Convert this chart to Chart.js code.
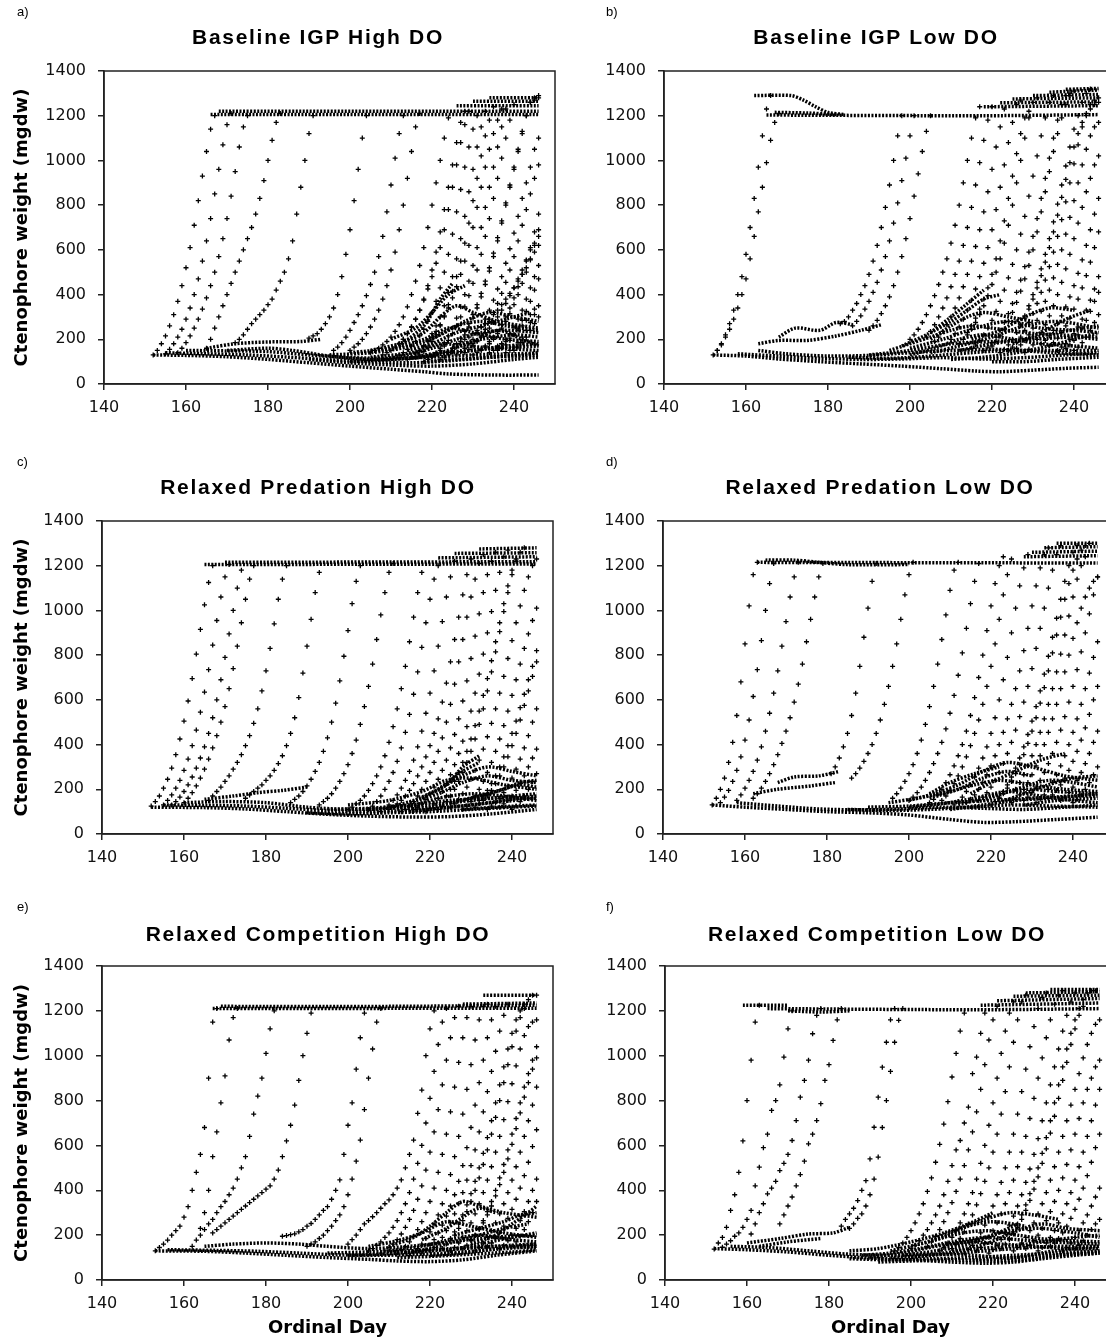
<!DOCTYPE html>
<html>
<head>
<meta charset="utf-8">
<script src="https://cdn.jsdelivr.net/npm/chart.js@4.4.1/dist/chart.umd.min.js"></script>
<style>
  body { margin: 0; background: #fff; width: 1106px; height: 1342px; overflow: hidden; position: relative; }
  canvas { position: absolute; }
  .ttl { position: absolute; transform: translate(-50%, -50%); white-space: nowrap;
         font: bold 21px "Liberation Sans", Arial, sans-serif; letter-spacing: 1.7px; color: #000; }
  .tag { position: absolute; font: 13px "Liberation Sans", Arial, sans-serif; color: #000; }
</style>
</head>
<body>
<script>
// axis ticks
const xTicks = [140, 160, 180, 200, 220, 240];
const yTicks = [0, 200, 400, 600, 800, 1000, 1200, 1400];
const lastDay = 246;

// each track: [first day, weight on that day, weight next day, ...]
const tracksA = [
  [152,130,150,180,215,260,310,370,440,520,610,710,820,930,1040,1140,1200],
  [155,135,155,180,210,245,290,340,400,470,550,640,740,850,960,1070,1160,1210],
  [158,140,160,185,215,250,290,335,385,440,500,570,650,740,840,950,1060,1150,1200],
  [165,160,200,250,300,350,400,450,500,550,600,650,700,760,830,910,1000,1090,1170,1210],
  [172,185,200,220,245,270,290,310,330,355,380,420,460,500,560,640,760,880,1000,1120,1200],
  [190,205,215,225,245,270,300,340,400,480,580,690,820,960,1100,1200],
  [196,150,165,185,210,240,275,310,350,395,445,500,570,660,770,890,1010,1120,1200],
  [200,150,165,180,200,225,255,290,330,380,440,510,590,690,800,920,1040,1150,1210],
  [205,140,150,160,175,190,210,235,265,300,345,400,460,530,610,700,800,900,1000,1100,1190],
  [208,130,140,150,165,180,200,225,255,290,330,380,440,510,590,680,780,880,980,1080,1170,1220],
  [212,130,140,155,170,190,215,245,280,320,370,430,500,580,670,770,870,970,1060,1140,1200],
  [214,110,120,135,150,170,195,225,260,300,350,410,480,560,650,750,860,960,1060,1150,1220],
  [216,120,130,145,165,190,220,260,305,355,415,480,550,630,720,820,920,1020,1110,1180,1240],
  [218,100,110,125,140,160,185,215,250,295,345,400,460,530,610,700,790,880,970,1060,1150,1230],
  [220,120,135,150,170,195,225,260,300,345,395,450,510,580,660,740,830,920,1010,1100,1180,1250],
  [222,110,120,130,145,165,190,220,255,295,340,390,445,505,570,640,720,800,880,960,1040,1120,1200,1260,1280,1290],
  [224,140,160,180,205,235,270,310,355,405,460,520,585,655,730,810,890,970,1050,1130,1200,1260,1270,1280],
  [226,130,145,160,180,200,225,255,290,330,375,425,480,540,605,675,750,830,900,970,1050,1100],
  [228,140,155,170,190,215,245,280,320,360,405,455,510,570,640,710,780,850,920,980],
  [230,130,140,155,170,190,210,235,265,300,340,385,435,490,550,610,680,760],
  [232,150,165,180,200,225,250,280,315,355,400,450,500,560,620,690],
  [234,140,150,165,180,200,225,255,290,330,380,430,480,530],
  [236,150,160,175,195,220,250,285,325,370,420,470],
  [238,140,150,165,185,210,240,275,310,350],
  [240,150,165,185,210,240,270,300],
  [230,180,195,210,230,250,275,300,330,360,395,430,470,510,555,600,630,660],
  [228,200,210,225,240,255,270,290,310,330,355,380,405,430,460,490,520,555,590,620],
  [236,170,180,190,205,220,240,260,285,310,335],
  [212,180,200,225,255,290,330,375,425,480,540,610,690,780,880,980,1080,1160,1220],
  [218,170,190,210,235,265,300,340,385,435,490,550,620,700,790,880,970,1050,1120,1180,1230]
];
// dotted bands: [day, weight, day, weight, ...]
const bandsA = [
  [166,1205, 246,1205],
  [168,1220, 246,1220],
  [226,1245, 246,1245],
  [230,1265, 246,1265],
  [234,1280, 246,1280],
  [152,130, 160,128, 170,122, 180,110, 190,95, 200,80, 210,66, 218,55, 224,45, 235,40, 246,40],
  [155,140, 165,135, 175,130, 185,120, 195,108, 205,100, 215,95, 225,105, 235,120, 246,130],
  [160,150, 170,148, 180,145, 190,130, 200,118, 210,115, 220,120, 230,130, 240,135, 246,138],
  [165,160, 172,180, 180,188, 188,190, 193,200],
  [170,150, 180,160, 186,150, 195,125, 205,110, 215,115, 225,140, 235,160, 246,170],
  [200,140, 210,160, 218,200, 224,250, 230,230, 238,200, 246,190],
  [205,120, 215,140, 222,180, 228,170, 236,160, 246,150],
  [190,110, 200,95, 210,85, 220,80, 230,90, 240,110, 246,120],
  [205,150, 212,180, 218,230, 222,300, 226,350, 230,320, 236,280, 242,260, 246,250],
  [208,110, 214,130, 220,160, 226,200, 232,230, 238,240, 246,230],
  [212,170, 218,260, 222,380, 225,450],
  [215,120, 222,140, 230,150, 238,170, 246,180],
  [195,130, 205,140, 215,170, 222,220, 228,280, 234,320, 240,300, 246,280],
  [218,100, 226,110, 234,120, 242,130, 246,140],
  [200,100, 210,110, 220,130, 230,190, 236,240, 242,200, 246,170],
  [210,200, 216,250, 220,320, 224,400, 228,440],
  [220,200, 226,260, 232,280, 238,260, 246,240],
  [225,170, 232,200, 240,220, 246,210],
  [214,150, 220,180, 226,230, 232,260, 238,290, 244,320]
];

const tracksB = [
  [152,130,150,175,210,245,290,340,400,470,560,660,770,880,990,1090,1170,1210],
  [153,150,180,220,270,330,400,480,580,700,830,970,1110,1230,1290],
  [183,270,280,300,330,360,400,440,490,550,620,700,790,890,1000,1110,1200],
  [186,260,280,305,335,370,410,455,510,570,640,720,810,910,1010,1110,1200],
  [190,240,260,285,315,350,390,440,500,570,650,740,840,940,1040,1130,1200],
  [200,200,220,245,275,310,350,395,445,500,560,630,710,800,900,1000,1100,1190,1240],
  [204,210,235,265,300,340,385,435,490,550,620,700,790,890,990,1090,1180,1240],
  [206,190,210,235,265,300,340,385,435,490,550,615,690,770,860,960,1060,1150,1230],
  [210,200,225,255,290,330,375,425,480,540,610,690,780,880,980,1080,1170,1250,1270],
  [212,180,200,220,245,275,310,350,395,445,500,560,630,710,800,900,1000,1100,1190,1260,1280],
  [215,160,175,195,220,250,285,325,370,420,475,535,600,670,750,840,930,1020,1110,1190,1260,1290],
  [218,150,165,185,210,240,275,315,360,410,465,525,590,660,740,830,920,1010,1100,1180,1250,1290,1300],
  [220,170,190,215,245,280,320,365,415,470,530,600,680,770,860,950,1040,1120,1190,1250,1290,1310],
  [222,140,155,175,200,230,265,305,350,400,455,515,580,650,725,805,890,975,1060,1140,1200,1260,1300,1320],
  [224,150,165,185,210,240,275,315,360,410,465,525,590,660,735,815,900,985,1070,1150,1210,1250,1270,1280],
  [226,160,175,195,220,250,285,325,370,420,475,535,600,670,745,820,900,980,1050,1110,1150,1170],
  [228,140,155,175,200,230,265,305,350,400,455,515,580,650,720,790,860,920,980,1020],
  [232,180,195,215,240,270,305,345,390,440,495,555,620,690,760,830],
  [234,170,185,205,230,260,295,335,380,430,485,545,610,680],
  [236,150,165,180,200,225,255,290,330,375,425,480],
  [238,160,175,195,220,250,285,325,370,410],
  [240,150,165,185,210,240,275,310],
  [226,230,260,295,335,380,430,485,545,610,680,755,835,915,990,1060,1120,1170,1200,1230,1250,1260],
  [214,230,260,295,335,380,430,490,560,640,730,830,930,1030,1120,1190,1220]
];
const bandsB = [
  [165,1203, 218,1200, 246,1205],
  [167,1215, 175,1212, 182,1205],
  [162,1290, 171,1290, 174,1270, 177,1240, 180,1215, 184,1205],
  [218,1240, 246,1245],
  [222,1258, 246,1262],
  [225,1275, 246,1280],
  [230,1290, 246,1295],
  [234,1305, 246,1315],
  [238,1318, 246,1322],
  [152,130, 160,125, 168,112, 178,100, 188,90, 198,80, 208,68, 216,58, 222,55, 230,62, 238,70, 246,75],
  [158,135, 168,125, 178,115, 188,110, 198,112, 208,118, 218,112, 228,118, 238,130, 246,140],
  [163,150, 170,135, 180,125, 190,128, 200,140, 210,150, 220,155, 230,150, 240,150, 246,150],
  [163,180, 168,195, 175,195, 182,215, 188,240, 193,265],
  [168,210, 172,250, 178,240, 182,275, 186,265],
  [195,150, 200,180, 205,210, 210,240, 215,260, 220,250, 228,230, 236,220, 246,210],
  [200,130, 206,160, 212,200, 218,220, 225,200, 232,180, 240,170, 246,160],
  [205,200, 210,260, 214,300, 218,320, 224,300, 230,280],
  [185,120, 195,115, 205,125, 215,140, 225,150, 235,140, 246,130],
  [198,170, 204,220, 210,280, 214,330, 218,380, 222,400],
  [205,140, 212,170, 220,210, 228,260, 236,280, 246,250],
  [210,110, 218,120, 226,140, 234,170, 240,200, 246,230],
  [190,130, 200,150, 210,180, 220,190, 230,200, 240,210, 246,200],
  [215,200, 222,240, 228,300, 234,340, 240,330],
  [220,100, 228,100, 236,110, 246,120],
  [205,230, 210,300, 214,360, 218,420],
  [212,150, 220,180, 228,200, 236,230, 246,260],
  [225,180, 232,230, 238,290, 244,330],
  [200,160, 208,200, 216,250, 224,280, 232,250, 240,240, 246,230]
];

const tracksC = [
  [152,125,145,170,205,245,295,355,425,505,595,695,805,915,1025,1125,1200],
  [155,130,150,175,205,240,285,335,395,465,545,635,735,845,955,1060,1150,1205],
  [157,130,145,165,190,220,255,295,340,390,450,520,600,690,790,895,1000,1100,1180],
  [160,140,160,185,215,250,290,335,385,440,500,570,650,740,840,945,1050,1140,1200],
  [166,150,170,190,210,235,260,290,320,355,395,440,495,560,640,730,830,940,1050,1140,1200],
  [175,160,175,190,205,220,240,260,285,315,350,395,450,520,610,720,840,960,1080,1170],
  [186,140,155,170,190,215,245,280,320,370,430,500,585,685,795,910,1030,1130,1200],
  [193,130,145,160,180,205,235,270,310,360,420,490,570,660,760,870,980,1080,1170,1210],
  [200,110,120,135,150,170,195,225,260,300,350,410,480,560,650,750,860,970,1080,1170],
  [205,110,125,145,170,200,235,275,325,385,455,535,625,725,835,945,1050,1140,1200],
  [208,100,115,130,150,175,205,240,280,330,390,460,540,630,730,840,950,1060,1150,1220],
  [210,110,120,135,150,170,195,225,260,300,345,395,450,515,590,675,770,870,970,1070,1160,1230],
  [213,100,110,125,145,170,200,235,275,320,370,430,500,580,670,770,870,970,1060,1140,1210,1250],
  [216,110,120,135,155,180,210,245,285,330,385,445,515,595,685,785,885,985,1080,1160,1220,1260],
  [219,100,115,135,160,190,225,265,310,360,415,480,550,630,715,805,900,995,1090,1170,1240,1270],
  [222,110,125,145,170,200,235,275,320,370,425,490,560,640,725,815,905,995,1080,1160,1220,1260,1280],
  [225,120,135,155,180,210,245,285,330,380,435,495,560,630,705,785,865,945,1020,1090,1150,1200,1230],
  [228,110,125,145,170,200,235,275,320,370,425,485,550,620,690,760,830,895,955,1010],
  [231,120,135,150,170,195,225,260,300,345,395,450,510,575,640,705,770],
  [234,110,125,140,160,185,215,250,290,335,385,440,500,560],
  [237,120,135,150,170,195,225,260,300,340,380],
  [240,110,125,145,170,200,235,270],
  [224,170,200,235,275,320,370,425,485,550,620,695,775,860,945,1030,1110,1180,1230],
  [232,150,170,195,225,260,300,345,395,450,505,565,625,690,750,820]
];
const bandsC = [
  [165,1205, 246,1208],
  [170,1215, 246,1218],
  [222,1235, 246,1240],
  [226,1255, 246,1258],
  [232,1275, 246,1280],
  [152,120, 165,118, 175,112, 185,100, 195,88, 205,80, 215,76, 225,78, 235,90, 246,110],
  [155,130, 165,128, 175,125, 185,115, 195,105, 205,100, 215,105, 225,120, 235,140, 246,160],
  [160,140, 170,145, 180,140, 190,120, 200,110, 210,115, 220,130, 230,150, 240,170, 246,180],
  [165,155, 172,170, 178,185, 184,195, 190,210],
  [200,130, 210,150, 218,190, 224,240, 230,250, 238,220, 246,200],
  [205,110, 215,125, 222,160, 230,180, 238,170, 246,150],
  [190,95, 200,90, 210,95, 220,100, 230,110, 240,120, 246,125],
  [210,120, 216,150, 222,200, 228,260, 234,300, 240,280, 246,260],
  [215,100, 222,115, 230,130, 238,150, 246,170],
  [218,160, 224,220, 228,300, 232,350],
  [195,110, 205,115, 215,130, 225,150, 235,160, 246,160],
  [225,140, 232,170, 238,200, 242,230, 246,240],
  [215,140, 222,180, 228,230, 234,260, 240,240, 246,230],
  [222,200, 228,280, 232,320],
  [228,110, 236,120, 246,130],
  [212,110, 220,120, 228,150, 236,190, 242,220, 246,210]
];

const tracksD = [
  [152,130,160,200,250,320,410,530,680,850,1020,1160,1215],
  [154,140,165,195,235,285,345,420,510,615,735,865,1000,1120,1210],
  [158,150,175,205,240,280,330,390,460,540,630,730,840,950,1060,1150,1215],
  [162,160,180,205,235,270,310,355,405,460,520,590,670,760,860,960,1060,1150,1210],
  [181,270,300,340,390,450,530,630,750,880,1010,1130,1210],
  [186,250,270,295,325,360,400,450,510,580,660,750,850,960,1070,1160,1215],
  [196,160,180,205,235,270,310,360,420,490,570,660,760,870,980,1090,1180,1215],
  [200,150,165,185,210,240,275,315,360,410,470,540,620,710,810,920,1030,1130,1210],
  [205,140,155,175,200,230,265,305,350,400,460,530,610,700,800,910,1020,1120,1200,1240],
  [208,150,170,195,225,260,300,345,395,450,510,580,660,750,850,960,1070,1160,1230],
  [211,130,145,165,190,220,255,295,340,390,450,520,600,690,790,900,1010,1110,1190,1250],
  [214,140,155,175,200,230,265,305,350,400,455,515,580,650,730,820,920,1020,1110,1190,1250,1280],
  [217,150,165,185,210,240,275,315,360,410,465,525,590,660,740,830,920,1010,1100,1180,1250,1290],
  [220,130,145,165,190,220,255,295,340,390,445,505,570,640,715,795,880,965,1050,1130,1200,1260,1290],
  [222,160,180,205,235,270,310,355,405,460,520,585,655,730,810,890,970,1050,1120,1180,1230,1270,1290,1300],
  [225,140,155,175,200,230,265,305,350,400,455,515,580,650,725,800,875,945,1010,1060,1100,1130,1150],
  [228,150,165,185,210,240,275,315,360,410,465,525,590,660,735,815,900,985,1070,1150],
  [231,140,155,175,200,230,265,305,350,400,455,515,580,650,720,790,860],
  [234,160,175,195,220,250,285,325,370,420,475,535,600,660],
  [237,150,165,185,210,240,275,315,360,410,460],
  [240,140,155,175,200,230,265,300],
  [226,200,230,265,305,350,400,455,515,580,650,725,805,890,975,1060,1140,1200,1240]
];
const bandsD = [
  [163,1215, 246,1212],
  [165,1225, 172,1225, 178,1215, 185,1205, 200,1205],
  [228,1240, 246,1245],
  [230,1260, 246,1265],
  [233,1280, 246,1285],
  [236,1300, 246,1300],
  [152,130, 160,120, 170,110, 180,100, 190,95, 200,85, 210,65, 218,52, 226,55, 236,65, 246,75],
  [158,140, 168,125, 178,112, 188,108, 198,112, 208,120, 218,115, 228,110, 238,120, 246,130],
  [162,180, 168,200, 176,215, 182,230],
  [168,230, 172,255, 178,260, 183,280],
  [195,140, 202,160, 210,190, 216,220, 222,240, 230,220, 238,200, 246,190],
  [200,120, 208,135, 216,160, 224,190, 232,170, 240,150, 246,140],
  [205,160, 212,200, 218,250, 224,280, 230,260],
  [185,110, 195,105, 205,110, 215,120, 225,130, 235,125, 246,120],
  [200,150, 206,180, 212,220, 218,280, 224,320, 230,300, 238,260, 246,240],
  [210,110, 218,130, 226,150, 234,160, 242,170, 246,170],
  [215,180, 220,230, 226,280, 232,330, 238,360],
  [190,120, 200,125, 210,140, 220,150, 230,160, 240,170, 246,180],
  [222,140, 228,180, 234,220, 240,250, 246,260],
  [205,180, 210,230, 216,270, 222,300],
  [218,150, 226,200, 234,240, 240,230, 246,210],
  [228,130, 236,150, 246,160],
  [212,130, 220,170, 228,200, 236,190, 246,180]
];

const tracksE = [
  [153,130,145,160,178,200,220,240,280,327,400,480,560,680,900,1150,1210],
  [162,150,178,230,300,400,550,660,790,910,1070,1170,1210],
  [164,200,225,250,270,300,327,350,380,410,450,500,550,640,740,820,900,1010,1120,1200],
  [167,210,225,240,255,270,285,300,315,330,345,360,375,390,405,420,450,490,550,620,690,780,890,1000,1100,1190],
  [184,195,198,202,206,215,225,240,252,270,290,310,327,360,400,446,560,690,790,940,1080,1190],
  [190,150,160,170,185,200,220,240,265,290,327,380,450,530,624,760,900,1030,1150,1210],
  [200,160,180,200,225,250,265,282,300,320,340,357,380,410,446,500,560,624,743,847,1000,1120,1200],
  [205,130,140,155,170,190,210,235,265,300,340,390,450,520,600,700,810,930,1050,1150,1210],
  [208,120,130,145,160,180,205,235,270,310,360,420,490,570,660,760,870,980,1080,1170,1220],
  [212,120,135,150,170,195,225,260,300,350,410,480,560,650,750,860,970,1080,1170,1220],
  [215,110,125,140,160,185,215,250,290,340,400,470,550,640,740,850,960,1070,1160,1220,1230],
  [218,120,135,155,180,210,245,285,330,380,440,510,590,680,780,880,980,1080,1160,1220],
  [220,130,145,165,190,220,255,295,340,390,445,510,580,660,750,840,930,1020,1110,1180,1230],
  [223,140,160,185,215,250,290,335,385,440,500,565,635,710,790,870,950,1030,1100,1160,1200,1230,1250,1270,1270],
  [225,130,145,165,190,220,255,295,340,390,445,505,570,640,715,795,875,955,1030,1090,1130,1150,1160],
  [228,140,155,175,200,230,265,305,350,400,455,515,580,650,720,790,860,920,980,1040],
  [231,130,145,165,190,220,255,295,340,390,445,505,570,640,710,780,860],
  [234,150,165,185,210,240,275,315,360,410,465,525,595,670],
  [237,140,155,175,200,230,265,305,350,400,450],
  [240,150,170,195,225,260,300,350],
  [226,200,230,265,305,350,400,455,515,580,650,725,800,880,960,1040,1110,1170,1210],
  [230,180,200,225,255,290,330,375,425,480,540,605,675,745,815,880,940,990]
];
const bandsE = [
  [167,1210, 246,1212],
  [169,1220, 210,1220, 246,1225],
  [228,1230, 246,1235],
  [233,1270, 246,1270],
  [153,130, 165,128, 175,120, 185,110, 195,100, 205,92, 212,85, 220,82, 228,90, 236,110, 246,130],
  [156,135, 168,132, 178,128, 188,120, 198,112, 208,110, 218,115, 228,125, 238,140, 246,150],
  [165,150, 172,160, 180,165, 188,160, 195,150, 205,140, 215,150, 225,170, 235,190, 246,200],
  [205,150, 212,175, 218,210, 224,260, 230,240, 238,210, 246,190],
  [210,130, 218,150, 225,180, 232,200, 240,180, 246,170],
  [195,120, 205,125, 215,130, 225,140, 235,150, 246,145],
  [210,150, 216,190, 220,240, 224,300, 228,350, 232,330, 238,300, 246,280],
  [214,120, 220,140, 226,170, 232,200, 238,230, 244,250],
  [220,110, 228,120, 236,140, 246,160],
  [200,110, 208,115, 216,125, 224,135, 232,145, 240,155, 246,160],
  [230,160, 236,200, 240,250, 244,300, 246,330],
  [218,180, 224,230, 228,280, 232,320, 236,300],
  [224,130, 232,160, 240,190, 246,210],
  [212,100, 220,105, 230,115, 240,125, 246,135],
  [226,200, 232,230, 238,260, 242,290, 246,300]
];

const tracksF = [
  [152,138,165,190,235,310,380,480,620,800,980,1150,1225],
  [154,146,160,175,195,210,235,270,310,420,503,590,650,756,800,870,994,1120,1200],
  [161,205,250,300,340,384,410,440,488,520,560,622,711,815,890,980,1098,1180,1210],
  [168,250,290,330,370,420,470,530,607,650,711,786,890,960,1068,1160,1210],
  [183,240,270,295,320,354,400,443,540,681,815,949,1060,1160,1210],
  [185,230,250,275,295,330,380,450,548,680,800,930,1060,1158,1210],
  [196,130,145,165,190,220,255,295,340,395,455,525,605,695,795,905,1010,1110,1190],
  [200,140,155,175,200,225,255,290,330,380,440,510,580,622,700,771,920,994,1100,1190],
  [204,150,170,195,225,260,300,345,395,450,510,580,660,750,850,960,1070,1160,1220],
  [207,130,145,165,190,220,255,295,340,390,450,520,600,690,790,900,1010,1110,1190,1240],
  [210,140,160,185,215,250,290,335,385,440,500,570,650,740,840,950,1060,1160,1240,1270],
  [213,120,135,155,180,210,245,285,330,380,435,500,570,650,740,840,940,1040,1130,1210,1260,1280],
  [216,130,145,165,190,220,255,295,340,390,445,505,570,640,720,810,900,990,1080,1160,1230,1270,1290],
  [219,120,135,155,180,210,245,285,330,380,435,495,560,630,710,790,870,950,1030,1110,1180,1240,1280],
  [222,140,160,185,215,250,290,335,385,440,500,565,635,710,790,870,950,1030,1100,1160,1210,1250,1280,1290,1290],
  [225,130,145,165,190,220,255,295,340,390,445,505,570,640,710,780,850,920,990,1050,1100,1140,1160],
  [228,140,155,175,200,230,265,305,350,400,455,515,580,650,720,790,850,900,950,980],
  [231,130,145,165,190,220,255,295,340,390,445,505,570,640,710,780,850],
  [234,150,165,185,210,240,275,315,360,410,465,525,590,650],
  [237,130,145,165,190,220,255,290,330,370,410],
  [240,140,155,175,200,225,250,270],
  [224,180,205,235,270,310,355,405,460,520,585,655,730,810,890,970,1050,1120,1180,1220]
];
const bandsF = [
  [159,1225, 170,1225],
  [165,1210, 216,1205, 246,1210],
  [170,1200, 178,1195, 185,1200],
  [217,1225, 246,1235],
  [221,1245, 246,1255],
  [225,1265, 246,1270],
  [228,1280, 246,1285],
  [234,1295, 246,1295],
  [152,140, 160,135, 170,125, 180,110, 190,98, 200,90, 210,80, 218,75, 225,80, 232,95, 240,110, 246,120],
  [156,150, 165,145, 175,130, 185,115, 195,110, 205,115, 215,110, 225,100, 235,130, 246,150],
  [160,165, 168,185, 175,205, 181,210, 185,235],
  [163,150, 170,170, 178,185],
  [190,100, 198,120, 206,150, 214,170, 222,160, 230,150, 238,140, 246,140],
  [195,130, 202,160, 210,200, 218,220, 226,200, 234,180, 246,170],
  [200,150, 208,190, 214,240, 220,260, 228,240],
  [185,95, 195,90, 205,95, 215,100, 225,110, 235,120, 246,130],
  [188,110, 195,120, 202,140, 210,170, 218,190, 226,180, 234,170, 246,160],
  [192,80, 200,85, 210,90, 220,85, 228,90, 236,110, 246,120],
  [200,100, 208,120, 216,140, 224,150, 232,170, 240,190, 246,200],
  [205,180, 212,230, 218,270, 224,300, 230,290, 236,270],
  [210,130, 218,160, 226,220, 232,250, 238,230, 246,220],
  [185,130, 192,140, 200,170, 208,210, 214,250, 220,300],
  [195,100, 205,110, 215,125, 225,140, 235,150, 246,150],
  [208,150, 216,180, 224,220, 232,230, 240,210, 246,190],
  [215,90, 222,95, 230,105, 238,115, 246,125],
  [198,110, 206,130, 214,160, 220,200, 226,250]
];

const panels = [
  { tag: 'a)', title: 'Baseline IGP High DO',          tracks: tracksA, bands: bandsA, left: 0,   top: 0,   yw: 104, h: 424, xh: 40, yTitle: true,  xTitle: false, tx: 318, ty: 37 },
  { tag: 'b)', title: 'Baseline IGP Low DO',           tracks: tracksB, bands: bandsB, left: 560, top: 0,   yw: 104, h: 424, xh: 40, yTitle: false, xTitle: false, tx: 876, ty: 37 },
  { tag: 'c)', title: 'Relaxed Predation High DO',     tracks: tracksC, bands: bandsC, left: 0,   top: 450, yw: 102, h: 424, xh: 40, yTitle: true,  xTitle: false, tx: 318, ty: 487 },
  { tag: 'd)', title: 'Relaxed Predation Low DO',      tracks: tracksD, bands: bandsD, left: 560, top: 450, yw: 103, h: 424, xh: 40, yTitle: false, xTitle: false, tx: 880, ty: 487 },
  { tag: 'e)', title: 'Relaxed Competition High DO',   tracks: tracksE, bands: bandsE, left: 0,   top: 895, yw: 102, h: 447, xh: 62, yTitle: true,  xTitle: true,  tx: 318, ty: 934 },
  { tag: 'f)', title: 'Relaxed Competition Low DO',    tracks: tracksF, bands: bandsF, left: 560, top: 895, yw: 105, h: 447, xh: 62, yTitle: false, xTitle: true,  tx: 877, ty: 934 }
];

function trackPoints(tracks) {
  const pts = [];
  for (const t of tracks) {
    for (let i = 1; i < t.length; i++) {
      const day = t[0] + i - 1;
      if (day <= lastDay) pts.push({ x: day, y: t[i] });
    }
  }
  return pts;
}
function bandPoints(b) {
  const pts = [];
  for (let i = 0; i < b.length; i += 2) pts.push({ x: b[i], y: b[i + 1] });
  return pts;
}

// box round the plot area
const frame = {
  id: 'frame',
  afterDraw(chart) {
    const a = chart.chartArea, ctx = chart.ctx;
    ctx.save();
    ctx.strokeStyle = '#222';
    ctx.lineWidth = 1.5;
    ctx.strokeRect(a.left, a.top, a.right - a.left, a.bottom - a.top);
    ctx.restore();
  }
};

const tickFont = { family: 'DejaVu Sans', size: 16 };
const axisLine = { color: '#222', width: 1.5 };

panels.forEach(p => {
  const cv = document.createElement('canvas');
  const w = p.yw + 451 + 7;
  cv.width = w; cv.height = p.h;
  cv.style.left = p.left + 'px';
  cv.style.top = p.top + 'px';
  cv.style.width = w + 'px'; cv.style.height = p.h + 'px';
  document.body.appendChild(cv);

  const ttl = document.createElement('div');
  ttl.className = 'ttl';
  ttl.textContent = p.title;
  ttl.style.left = p.tx + 'px'; ttl.style.top = p.ty + 'px';
  document.body.appendChild(ttl);

  const tag = document.createElement('div');
  tag.className = 'tag';
  tag.textContent = p.tag;
  tag.style.left = (p.left + (p.left ? 46 : 17)) + 'px';
  tag.style.top = (p.top + 4) + 'px';
  document.body.appendChild(tag);

  const datasets = p.bands.map(b => ({
    type: 'line',
    data: bandPoints(b),
    borderColor: '#000',
    borderWidth: 3.5,
    borderDash: [2, 1.5],
    pointRadius: 0,
    tension: 0.3,
    fill: false
  }));
  datasets.push({
    type: 'scatter',
    data: trackPoints(p.tracks),
    pointStyle: 'cross',
    pointRadius: 2.5,
    borderColor: '#000',
    borderWidth: 1.3
  });

  new Chart(cv, {
    type: 'scatter',
    data: { datasets },
    options: {
      responsive: false,
      animation: false,
      devicePixelRatio: 1,
      layout: { padding: { top: 71, right: 7, bottom: 0, left: 0 } },
      plugins: { legend: { display: false }, tooltip: { enabled: false } },
      scales: {
        x: {
          type: 'linear', min: 140, max: 250,
          afterBuildTicks: s => { s.ticks = xTicks.map(v => ({ value: v })); },
          afterFit: s => { s.height = p.xh; },
          grid: { drawOnChartArea: false, drawTicks: true, tickLength: 6, color: '#222', lineWidth: 1.5 },
          border: axisLine,
          ticks: { font: tickFont, color: '#111', padding: 8, maxRotation: 0, callback: v => String(v) },
          title: { display: p.xTitle, text: 'Ordinal Day', color: '#000',
                   font: { family: 'DejaVu Sans', size: 18, weight: 'bold' }, padding: { top: 0, bottom: 3 } }
        },
        y: {
          min: 0, max: 1400,
          afterBuildTicks: s => { s.ticks = yTicks.map(v => ({ value: v })); },
          afterFit: s => { s.width = p.yw; },
          grid: { drawOnChartArea: false, drawTicks: true, tickLength: 6, color: '#222', lineWidth: 1.5 },
          border: axisLine,
          ticks: { font: tickFont, color: '#111', padding: 12, callback: v => String(v) },
          title: { display: p.yTitle, text: 'Ctenophore weight (mgdw)', color: '#000',
                   font: { family: 'DejaVu Sans', size: 18, weight: 'bold' }, padding: { top: 12, bottom: 0 } }
        }
      }
    },
    plugins: [frame]
  });
});
</script>
</body>
</html>
